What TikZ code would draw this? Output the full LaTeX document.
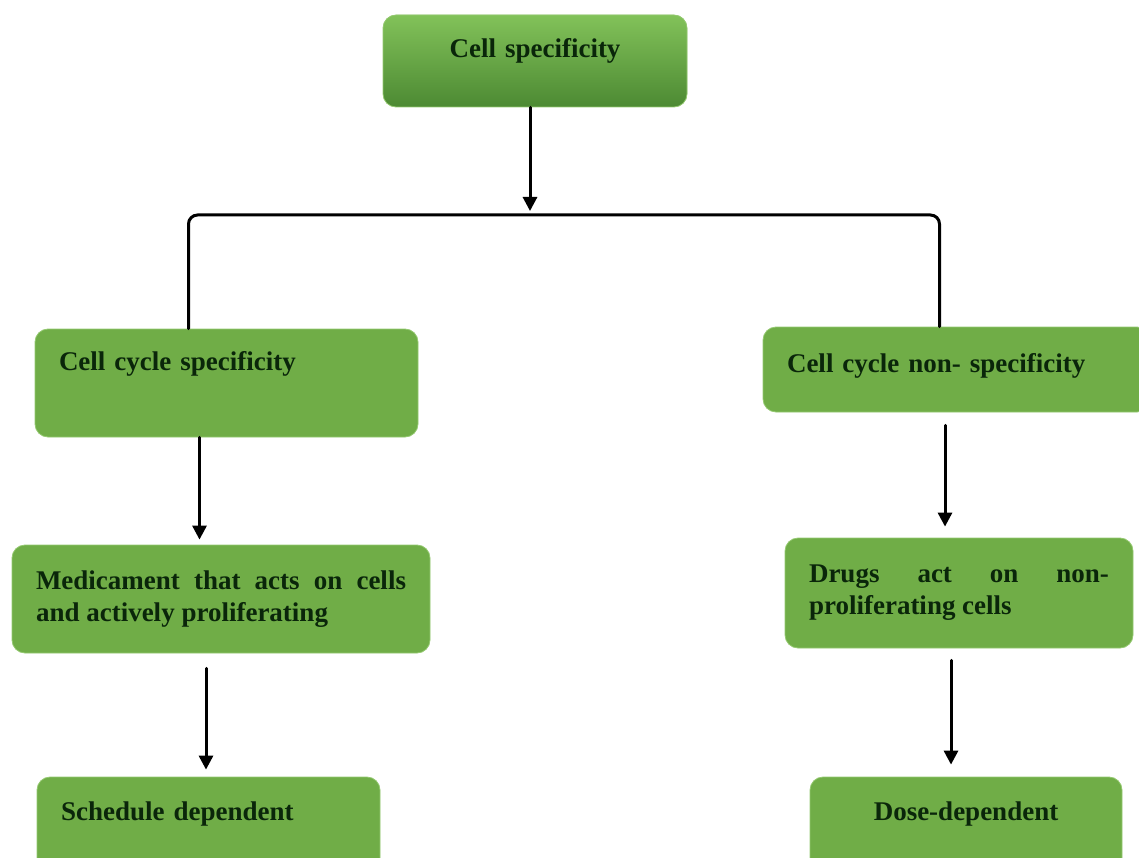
\documentclass[tikz,border=0pt]{standalone}
\usepackage{fontspec}
\setmainfont{Liberation Serif}
\usepackage{tikz}
\usetikzlibrary{arrows.meta}
\definecolor{ggreen}{rgb}{0.44,0.68,0.28}
\definecolor{gtop}{rgb}{0.51,0.76,0.35}
\definecolor{gbot}{rgb}{0.30,0.54,0.20}
\definecolor{gedge}{rgb}{0.58,0.79,0.44}
\definecolor{gtext}{rgb}{0.04,0.15,0.04}

\begin{document}
\begin{tikzpicture}[line cap=round,line join=round,>={Triangle[width=14pt,length=14pt]},x=1pt,y=-1pt,
    cellbox/.style={draw=gedge,line width=0.8pt,fill=ggreen,rounded corners=13pt,inner xsep=24pt,inner ysep=0pt,
      font=\fontsize{27}{32}\selectfont\bfseries,text=gtext},
    oneline/.style={text height=19pt,text depth=#1},
    link/.style={line width=3pt}]
    \useasboundingbox (0,0) rectangle (1139,858);
    \clip (0,0) rectangle (1139,858);
    \node[cellbox,oneline=25pt,minimum height=92pt,text width=256pt,align=center,top color=gtop,bottom color=gbot] (spec) at (535,61) {Cell specificity};
    \node[cellbox,oneline=45pt,minimum height=108pt,text width=335pt,align=left] (cyc) at (226.5,383) {Cell cycle specificity};
    \node[cellbox,minimum height=108pt,text width=370pt,align=justify] (med) at (221,599) {Medicament that acts on cells\linebreak and actively proliferating};
    \node[cellbox,oneline=41pt,minimum height=108pt,text width=295pt,align=left] (sched) at (208.5,831) {Schedule dependent};
    \node[cellbox,oneline=14pt,minimum height=85pt,text width=339pt,align=left] (noncyc) at (956.5,369.5) {Cell cycle non- specificity};
    \node[cellbox,minimum height=110pt,text width=300pt,align=justify] (drugs) at (959,593) {Drugs act on non-\linebreak proliferating cells};
    \node[cellbox,oneline=41pt,minimum height=108pt,text width=264pt,align=center] (dose) at (966,831) {Dose-dependent};
    \coordinate (split) at (530,215);
    \draw[link,rounded corners=9pt] ([xshift=-38pt]cyc.north) |- (split) -| ([xshift=-17pt]noncyc.north);
    \draw[link,->,shorten >=4pt] ([xshift=-5pt]spec.south) -- (split);
    \draw[link,->,shorten >=5pt] ([xshift=-27pt]cyc.south) -- ([xshift=-27pt]cyc.south |- med.north);
    \draw[link,->,shorten <=15pt,shorten >=7pt] ([xshift=-15pt]med.south) -- ([xshift=-15pt]med.south |- sched.north);
    \draw[link,->,shorten <=13pt,shorten >=11pt] ([xshift=-11.5pt]noncyc.south) -- ([xshift=-11.5pt]noncyc.south |- drugs.north);
    \draw[link,->,shorten <=12pt,shorten >=12pt] ([xshift=-8pt]drugs.south) -- ([xshift=-8pt]drugs.south |- dose.north);
  \end{tikzpicture}
\end{document}
